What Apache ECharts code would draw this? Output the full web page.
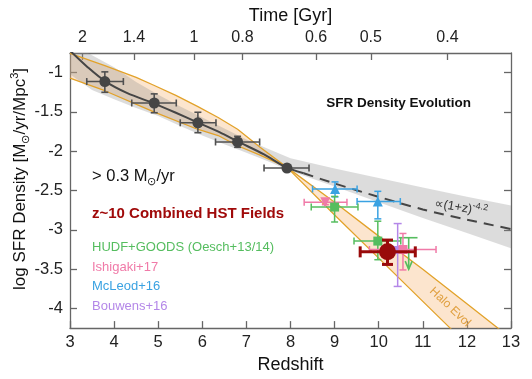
<!DOCTYPE html>
<html>
<head>
<meta charset="utf-8">
<script src="https://cdn.jsdelivr.net/npm/echarts@6/dist/echarts.min.js"></script>
<style>
html,body{margin:0;padding:0;background:#fff;}
#chart{width:532px;height:379px;}
</style>
</head>
<body>
<div id="chart"></div>
<script>
// ---- Axis tick data ----
const timeLabels = ['2', '1.4', '1', '0.8', '0.6', '0.5', '0.4'];
const timeTickZ = [3.28, 4.45, 5.81, 6.91, 8.58, 9.82, 11.56];
const sfrTicks = [-4, -3.5, -3, -2.5, -2, -1.5, -1];

// ---- Observational points: [z, logSFRD, zLow, zHigh, logLow, logHigh] ----
const lowZPoints = [
  [3.79, -1.113, 3.38, 4.21, -1.25, -0.99],
  [4.91, -1.386, 4.40, 5.41, -1.51, -1.27],
  [5.90, -1.638, 5.50, 6.31, -1.764, -1.504],
  [6.80, -1.882, 6.30, 7.30, -1.95, -1.81],
  [7.92, -2.214, 7.40, 8.42, -2.25, -2.17]
];
const mcleodPoints = [
  [9.01, -2.48, 8.50, 9.51, -2.58, -2.39],
  [9.98, -2.64, 9.51, 10.49, -2.86, -2.51]
];
const ishigakiTriPoints = [
  [8.79, -2.65, 8.31, 9.28, -2.68, -2.61]
];
const ishigakiSqPoints = [
  [10.55, -3.25, 9.79, 11.30, -3.51, -3.046]
];
const oeschPoints = [
  [9.00, -2.71, 8.47, 9.53, -2.90, -2.575],
  [9.98, -3.143, 9.44, 10.50, -3.38, -2.89]
];
// upper limit: [z, top, zLow, zHigh, arrowTip]
const oeschLimit = [[10.68, -3.10, 10.45, 10.88, -3.50]];
const bouwensPoints = [
  [10.43, -3.256, 10.43, 10.43, -3.72, -2.92]
];
const combinedPoints = [
  [10.2, -3.28, 9.58, 10.83, -3.44, -3.13]
];

// ---- Curves ----
const fitZ = [3.0, 3.4, 3.8, 4.3, 4.9, 5.4, 5.9, 6.4, 6.8, 7.4, 7.9, 8.3];
const fitV = [-0.72, -0.93, -1.11, -1.26, -1.39, -1.51, -1.635, -1.76, -1.875, -2.04, -2.205, -2.28];
const powZ = [8.3, 9, 10, 11, 12, 13];
const powV = [-2.28, -2.41, -2.58, -2.74, -2.87, -2.99];

const bandZ = [3, 3.5, 4, 4.5, 5, 5.5, 6, 6.5, 7, 7.5, 8, 9, 10, 11, 12, 13];
const bandHi = [-0.62, -0.78, -0.93, -1.12, -1.28, -1.43, -1.57, -1.71, -1.85, -1.97, -2.09, -2.22, -2.34, -2.46, -2.58, -2.69];
const bandLo = [-1.02, -1.22, -1.34, -1.45, -1.55, -1.68, -1.80, -1.91, -2.02, -2.13, -2.25, -2.45, -2.65, -2.85, -3.04, -3.235];

const haloAZ = [3.0, 3.79, 4.5, 4.9, 5.4, 5.89, 6.36, 6.8, 7.31, 7.92, 9, 10, 11, 11.62, 12];
const haloAV = [-0.755, -0.912, -1.06, -1.16, -1.29, -1.43, -1.57, -1.72, -1.95, -2.205, -2.81, -3.36, -3.91, -4.25, -4.46];
const haloBZ = [3.0, 3.79, 4.9, 5.89, 6.36, 6.8, 7.31, 7.92, 9, 10, 11, 12, 12.7, 13];
const haloBV = [-1.071, -1.23, -1.50, -1.72, -1.80, -1.93, -2.05, -2.205, -2.65, -3.08, -3.50, -3.94, -4.25, -4.38];

const zip = (a, b) => a.map((v, i) => [v, b[i]]);

function bandSeries(upperZ, upperV, lowerZ, lowerV, fill, z) {
  return {
    type: 'custom', clip: true, z: z, silent: true,
    data: [[upperZ[0], upperV[0]]],
    renderItem: function (params, api) {
      const pts = [];
      for (let i = 0; i < upperZ.length; i++) pts.push(api.coord([upperZ[i], upperV[i]]));
      for (let i = lowerZ.length - 1; i >= 0; i--) pts.push(api.coord([lowerZ[i], lowerV[i]]));
      return { type: 'polygon', shape: { points: pts }, style: { fill: fill, stroke: null } };
    }
  };
}

function errSeries(points, color, width, cap, z) {
  return {
    type: 'custom', z: z, silent: true,
    data: points,
    encode: { x: [0, 2, 3], y: [1, 4, 5] },
    renderItem: function (params, api) {
      const zc = api.value(0), v = api.value(1);
      const zl = api.value(2), zh = api.value(3), vl = api.value(4), vh = api.value(5);
      const pl = api.coord([zl, v]), ph = api.coord([zh, v]);
      const ql = api.coord([zc, vl]), qh = api.coord([zc, vh]);
      const st = { stroke: color, lineWidth: width, fill: null };
      const ch = [];
      if (zh > zl) {
        ch.push({ type: 'line', shape: { x1: pl[0], y1: pl[1], x2: ph[0], y2: ph[1] }, style: st });
        ch.push({ type: 'line', shape: { x1: pl[0], y1: pl[1] - cap, x2: pl[0], y2: pl[1] + cap }, style: st });
        ch.push({ type: 'line', shape: { x1: ph[0], y1: ph[1] - cap, x2: ph[0], y2: ph[1] + cap }, style: st });
      }
      ch.push({ type: 'line', shape: { x1: ql[0], y1: ql[1], x2: qh[0], y2: qh[1] }, style: st });
      ch.push({ type: 'line', shape: { x1: ql[0] - cap, y1: ql[1], x2: ql[0] + cap, y2: ql[1] }, style: st });
      ch.push({ type: 'line', shape: { x1: qh[0] - cap, y1: qh[1], x2: qh[0] + cap, y2: qh[1] }, style: st });
      return { type: 'group', children: ch };
    }
  };
}

function markerSeries(points, symbol, size, color, z, rotate) {
  return {
    type: 'scatter', z: z, silent: true,
    symbol: symbol, symbolSize: size, symbolRotate: rotate || 0,
    itemStyle: { color: color, opacity: 1 },
    data: points.map(p => [p[0], p[1]])
  };
}

const FONT = 'Liberation Sans, Arial, Helvetica, sans-serif';
const green = '#55bd5f', pink = '#f07aa8', blue = '#3aa2e2', purple = '#b487e8', red = '#990a0a', dark = '#454545';
const orangeLine = '#e2a22a';

const chart = echarts.init(document.getElementById('chart'), null, { renderer: 'canvas' });

const axisLineStyle = { color: '#666', width: 1.3 };

chart.setOption({
  animation: false,
  backgroundColor: '#fff',
  textStyle: { fontFamily: FONT },
  grid: { left: 70, right: 21, top: 53, bottom: 48 },
  xAxis: [
    {
      type: 'value', position: 'bottom', min: 3, max: 13, interval: 1,
      name: 'Redshift', nameLocation: 'middle', nameGap: 23,
      nameTextStyle: { fontSize: 18, color: '#111', fontFamily: FONT },
      axisLine: { show: true, lineStyle: axisLineStyle },
      axisTick: { show: true, inside: true, length: 7, lineStyle: axisLineStyle },
      axisLabel: { fontSize: 16.5, color: '#222', margin: 6, fontFamily: FONT },
      splitLine: { show: false }
    },
    {
      type: 'value', position: 'top', min: 3, max: 13,
      name: 'Time [Gyr]', nameLocation: 'middle', nameGap: 28,
      nameTextStyle: { fontSize: 18, color: '#111', fontFamily: FONT },
      axisLine: { show: true, lineStyle: axisLineStyle },
      axisTick: { show: true, inside: true, length: 7, lineStyle: axisLineStyle, customValues: timeTickZ },
      axisLabel: {
        fontSize: 16, color: '#222', margin: 7, fontFamily: FONT,
        customValues: timeTickZ,
        formatter: function (v) {
          let best = 0;
          timeTickZ.forEach((t, i) => { if (Math.abs(t - v) < Math.abs(timeTickZ[best] - v)) best = i; });
          return timeLabels[best];
        }
      },
      splitLine: { show: false }
    }
  ],
  yAxis: [
    {
      type: 'value', position: 'left', min: -4.25, max: -0.75,
      axisLine: { show: true, lineStyle: axisLineStyle },
      axisTick: { show: true, inside: true, length: 7, lineStyle: axisLineStyle, customValues: sfrTicks },
      axisLabel: { fontSize: 16.5, color: '#222', margin: 7, fontFamily: FONT, customValues: sfrTicks },
      splitLine: { show: false }
    },
    {
      type: 'value', position: 'right', min: -4.25, max: -0.75,
      axisLine: { show: true, lineStyle: axisLineStyle },
      axisTick: { show: true, inside: true, length: 7, lineStyle: axisLineStyle, customValues: sfrTicks },
      axisLabel: { show: false, customValues: sfrTicks },
      splitLine: { show: false }
    }
  ],
  series: [
    bandSeries(haloAZ, haloAV, haloBZ, haloBV, 'rgba(245,180,110,0.34)', 1),
    bandSeries(bandZ, bandHi, bandZ, bandLo, 'rgba(140,140,140,0.3)', 2),
    { type: 'line', z: 3, silent: true, showSymbol: false, symbol: 'none', clip: true,
      data: zip(haloAZ, haloAV), lineStyle: { color: orangeLine, width: 1.3 } },
    { type: 'line', z: 3, silent: true, showSymbol: false, symbol: 'none', clip: true,
      data: zip(haloBZ, haloBV), lineStyle: { color: orangeLine, width: 1.3 } },
    { type: 'line', z: 4, silent: true, showSymbol: false, symbol: 'none', clip: true, smooth: 0.3,
      data: zip(fitZ, fitV), lineStyle: { color: dark, width: 2 } },
    { type: 'line', z: 4, silent: true, showSymbol: false, symbol: 'none', clip: true, smooth: 0.3,
      data: zip(powZ, powV), lineStyle: { color: dark, width: 2, type: [10, 7] } },

    errSeries(lowZPoints, '#505050', 1.6, 3.5, 5),
    markerSeries(lowZPoints, 'circle', 11, dark, 6),

    errSeries(mcleodPoints, blue, 1.5, 3.5, 5),
    markerSeries(mcleodPoints, 'triangle', 10, blue, 6),
    errSeries(ishigakiTriPoints, pink, 1.5, 3.5, 5),
    markerSeries(ishigakiTriPoints, 'triangle', 10, pink, 6, 180),
    errSeries(oeschPoints, green, 1.5, 3.5, 5),
    markerSeries(oeschPoints, 'rect', 9, green, 6),
    {
      type: 'custom', z: 5, silent: true,
      data: oeschLimit,
      encode: { x: [0, 2, 3], y: [1, 4] },
      renderItem: function (params, api) {
        const top = api.coord([api.value(0), api.value(1)]);
        const l = api.coord([api.value(2), api.value(1)]);
        const r = api.coord([api.value(3), api.value(1)]);
        const tip = api.coord([api.value(0), api.value(4)]);
        const st = { stroke: green, lineWidth: 1.6, fill: null };
        return { type: 'group', children: [
          { type: 'line', shape: { x1: l[0], y1: l[1], x2: r[0], y2: r[1] }, style: st },
          { type: 'line', shape: { x1: top[0], y1: top[1], x2: tip[0], y2: tip[1] }, style: st },
          { type: 'polyline', shape: { points: [[tip[0] - 3.5, tip[1] - 8], [tip[0], tip[1]], [tip[0] + 3.5, tip[1] - 8]] }, style: st }
        ] };
      }
    },
    errSeries(bouwensPoints, purple, 1.5, 4, 5),
    markerSeries(bouwensPoints, 'rect', 8, purple, 6),
    errSeries(ishigakiSqPoints, pink, 1.5, 3.5, 6),
    markerSeries(ishigakiSqPoints, 'rect', 9, pink, 7),
    errSeries(combinedPoints, red, 3, 5.5, 8),
    markerSeries(combinedPoints, 'circle', 17, red, 9)
  ],
  graphic: [
    { type: 'text', x: 20, y: 179, rotation: Math.PI / 2, z: 20, silent: true,
      style: { text: '{a|log SFR Density [M}{s|⊙}{a|/yr/Mpc}{p|3}{a|]}', align: 'center', verticalAlign: 'middle',
        rich: {
          a: { fontSize: 17, fontFamily: FONT, fill: '#111', lineHeight: 22 },
          s: { fontSize: 11, fontFamily: FONT, fill: '#111', verticalAlign: 'bottom', lineHeight: 22, padding: [6, 0, 0, 0] },
          p: { fontSize: 11, fontFamily: FONT, fill: '#111', verticalAlign: 'top', lineHeight: 22, padding: [0, 0, 8, 0] }
        } } },
    { type: 'text', x: 471, y: 103, z: 20, silent: true,
      style: { text: 'SFR Density Evolution', font: 'bold 13.5px ' + FONT, fill: '#111', align: 'right', verticalAlign: 'middle' } },
    { type: 'text', x: 92, y: 176, z: 20, silent: true,
      style: { text: '{a|> 0.3 M}{s|⊙}{a|/yr}', verticalAlign: 'middle', fill: '#111',
        rich: { a: { fontSize: 16.5, fontFamily: FONT, fill: '#111', lineHeight: 22 },
                s: { fontSize: 11, fontFamily: FONT, fill: '#111', lineHeight: 22, verticalAlign: 'bottom', padding: [7, 0, 0, 0] } } } },
    { type: 'text', x: 92, y: 214, z: 20, silent: true,
      style: { text: 'z~10 Combined HST Fields', font: 'bold 15px ' + FONT, fill: '#a00a0a', verticalAlign: 'middle' } },
    { type: 'text', x: 92, y: 247.3, z: 20, silent: true,
      style: { text: 'HUDF+GOODS (Oesch+13/14)', font: '13px ' + FONT, fill: green, verticalAlign: 'middle' } },
    { type: 'text', x: 92, y: 267, z: 20, silent: true,
      style: { text: 'Ishigaki+17', font: '13px ' + FONT, fill: pink, verticalAlign: 'middle' } },
    { type: 'text', x: 92, y: 286.7, z: 20, silent: true,
      style: { text: 'McLeod+16', font: '13px ' + FONT, fill: blue, verticalAlign: 'middle' } },
    { type: 'text', x: 92, y: 306.5, z: 20, silent: true,
      style: { text: 'Bouwens+16', font: '13px ' + FONT, fill: purple, verticalAlign: 'middle' } },
    { type: 'text', x: 450, y: 307, rotation: -0.76, z: 20, silent: true,
      style: { text: 'Halo Evol', font: '12px ' + FONT, fill: '#e0a040', align: 'center', verticalAlign: 'middle' } },
    { type: 'text', x: 461, y: 208, rotation: -0.17, z: 20, silent: true,
      style: { text: '{a|∝(1+z)}{b|-4.2}', align: 'center', verticalAlign: 'middle', fill: '#333',
        rich: { a: { fontSize: 12.5, fontFamily: FONT, fill: '#333', lineHeight: 18 },
                b: { fontSize: 9, fontFamily: FONT, fill: '#333', lineHeight: 18, verticalAlign: 'top', padding: [0, 0, 7, 0] } } } }
  ]
});
</script>
</body>
</html>
